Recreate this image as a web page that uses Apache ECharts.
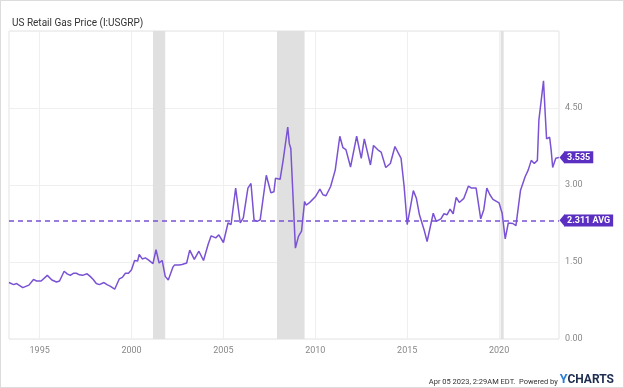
<!DOCTYPE html>
<html>
<head>
<meta charset="utf-8">
<script src="https://cdn.jsdelivr.net/npm/echarts@6/dist/echarts.min.js"></script>
<style>
html,body{margin:0;padding:0;background:#fff;}
#chart{width:624px;height:388px;box-sizing:border-box;border:1px solid #dcdcdc;}
</style>
</head>
<body>
<div id="chart"></div>
<script>
const chartTitle = 'US Retail Gas Price (I:USGRP)';
const dates = [
'1993-05','1993-08','1993-10','1994-02','1994-06','1994-09','1994-11',
'1995-02','1995-06','1995-09','1995-12',
'1996-02','1996-05','1996-07','1996-09','1996-11',
'1997-01','1997-03','1997-05','1997-08','1997-10','1997-12',
'1998-02','1998-04','1998-07','1998-09','1998-11',
'1999-02','1999-03','1999-05','1999-07','1999-09','1999-11',
'2000-01','2000-03','2000-05','2000-06','2000-08','2000-10','2000-12',
'2001-03','2001-05','2001-07','2001-09','2001-11',
'2002-01','2002-02','2002-04','2002-05','2002-08','2002-10',
'2003-01','2003-03','2003-06','2003-09','2003-12',
'2004-03','2004-05','2004-08','2004-10',
'2005-01','2005-04','2005-06','2005-09','2005-10','2005-12',
'2006-02','2006-05','2006-07','2006-09','2006-11',
'2007-01','2007-05','2007-08','2007-10','2007-11',
'2008-02','2008-04','2008-07','2008-08','2008-09','2008-12',
'2009-02','2009-04','2009-06','2009-07','2009-09','2009-11',
'2010-01','2010-04','2010-06','2010-08','2010-11',
'2011-02','2011-05','2011-07','2011-09','2011-12',
'2012-04','2012-07','2012-09',
'2013-01','2013-03','2013-06','2013-08','2013-11',
'2014-02','2014-05','2014-09','2014-11',
'2015-01','2015-03','2015-05','2015-07','2015-09','2015-12',
'2016-02','2016-06','2016-08','2016-11',
'2017-01','2017-03','2017-05','2017-07','2017-09','2017-11',
'2018-02','2018-05','2018-07','2018-10',
'2019-01','2019-03','2019-05','2019-07','2019-09',
'2020-01','2020-03','2020-05','2020-07','2020-10','2020-12',
'2021-03','2021-06','2021-08','2021-10','2021-12',
'2022-02','2022-03','2022-04','2022-06','2022-07','2022-08','2022-10','2022-11','2022-12',
'2023-02','2023-04'
];
const prices = [
1.10,1.06,1.08,1.00,1.05,1.16,1.13,
1.13,1.24,1.15,1.11,
1.13,1.32,1.27,1.24,1.28,
1.28,1.25,1.24,1.27,1.22,1.16,
1.08,1.06,1.10,1.06,1.03,
0.97,1.00,1.17,1.20,1.28,1.28,
1.35,1.53,1.52,1.65,1.56,1.58,1.54,
1.47,1.74,1.48,1.53,1.22,
1.15,1.16,1.40,1.44,1.44,1.45,
1.48,1.73,1.55,1.71,1.53,
1.84,2.01,1.97,2.03,
1.88,2.26,2.23,2.94,2.71,2.26,
2.36,2.94,3.03,2.32,2.29,
2.32,3.19,2.85,2.87,3.13,
3.11,3.48,4.13,3.81,3.71,1.77,
2.00,2.10,2.68,2.61,2.65,2.71,
2.77,2.92,2.81,2.79,2.97,
3.29,3.95,3.73,3.69,3.35,
3.95,3.52,3.90,
3.39,3.77,3.68,3.64,3.34,
3.42,3.75,3.52,2.97,
2.23,2.55,2.89,2.74,2.42,2.13,
1.90,2.45,2.29,2.34,
2.44,2.42,2.53,2.44,2.76,2.66,
2.74,2.98,2.94,2.94,
2.34,2.52,2.94,2.81,2.72,
2.65,2.45,1.95,2.26,2.25,2.21,
2.90,3.16,3.29,3.48,3.42,
3.48,4.27,4.26,5.03,4.45,3.90,3.93,3.68,3.34,
3.52,3.535
];
const avgPrice = 2.311;
const lastPrice = 3.535;
const recessions = [['2001-03','2001-11'],['2007-12','2009-06'],['2020-02','2020-04']];
const yearTicks = [1995, 2000, 2005, 2010, 2015, 2020];
const axisStart = '1993-05';
const axisEnd = '2023-04';
const footerText = 'Apr 05 2023, 2:29AM EDT.  Powered by ';
const brandY = 'Y';
const brandRest = 'CHARTS';

const toYear = s => { const p = s.split('-').map(Number); return p[0] + (p[1] - 1) / 12; };
const seriesData = dates.map((d, i) => [toYear(d), prices[i]]);
const xMin = toYear(axisStart);
const xMax = toYear(axisEnd) + 0.01;

const purple = '#7a52d4';
const tagPurple = '#5b2fc2';

const chart = echarts.init(document.getElementById('chart'), null, {renderer: 'canvas'});
chart.setOption({
  animation: false,
  backgroundColor: '#fff',
  title: {
    text: chartTitle, left: 6, top: 12,
    textStyle: {fontSize: 10, fontWeight: 'normal', color: '#333', fontFamily: 'Roboto, sans-serif'}
  },
  grid: {left: 8, right: 64, top: 30, bottom: 48, show: true, borderColor: '#e3e3e3', borderWidth: 1},
  xAxis: {
    type: 'value', min: xMin, max: xMax,
    axisLine: {show: false},
    axisTick: {show: false, customValues: yearTicks},
    axisLabel: {customValues: yearTicks, color: '#888', fontSize: 9, margin: 7, formatter: v => String(Math.round(v)), fontFamily: 'Roboto, sans-serif'},
    splitLine: {show: true, lineStyle: {color: '#efefef', width: 1}}
  },
  yAxis: {
    type: 'value', position: 'right', min: 0, max: 6, interval: 1.5,
    axisLine: {show: false}, axisTick: {show: false},
    axisLabel: {color: '#888', fontSize: 9, margin: 6, showMaxLabel: false, formatter: v => v.toFixed(2), fontFamily: 'Roboto, sans-serif'},
    splitLine: {show: true, lineStyle: {color: '#efefef', width: 1}}
  },
  series: [{
    type: 'line', data: seriesData, showSymbol: false, symbol: 'none',
    lineStyle: {color: purple, width: 1.5},
    itemStyle: {color: purple},
    markArea: {
      silent: true,
      itemStyle: {color: '#e0e0e0'},
      data: recessions.map(r => [{xAxis: toYear(r[0])}, {xAxis: toYear(r[1])}])
    },
    markLine: {
      silent: true, symbol: ['none', 'none'],
      label: {position: 'end', distance: 5, color: '#fff', backgroundColor: tagPurple, padding: [2, 3, 1, 3], fontSize: 9, fontWeight: 'bold', fontFamily: 'Roboto, sans-serif'},
      data: [
        {yAxis: avgPrice, lineStyle: {color: purple, type: [5, 4], width: 1.5}, label: {formatter: avgPrice.toFixed(3) + ' AVG'}},
        {yAxis: lastPrice, lineStyle: {color: 'rgba(0,0,0,0)', width: 1}, label: {formatter: lastPrice.toFixed(3)}}
      ]
    },
    markPoint: {
      silent: true,
      symbol: 'triangle', symbolRotate: 90, symbolSize: [12, 5], symbolOffset: [3, 0],
      itemStyle: {color: tagPurple},
      label: {show: false},
      data: [{coord: [xMax, avgPrice]}, {coord: [xMax, lastPrice]}]
    }
  }],
  graphic: [{
    type: 'text', right: 9, top: 372,
    style: {
      text: '{a|' + footerText + '}{b|' + brandY + '}{c|' + brandRest + '}',
      rich: {
        a: {fontSize: 7.5, fill: '#333', fontFamily: 'Roboto, sans-serif', verticalAlign: 'bottom'},
        b: {fontSize: 12.5, fill: '#2d7fd3', fontWeight: 'bold', fontFamily: 'Roboto, sans-serif'},
        c: {fontSize: 12, fill: '#1e2d4f', fontWeight: 'bold', fontFamily: 'Roboto, sans-serif'}
      }
    }
  }]
});
</script>
</body>
</html>
